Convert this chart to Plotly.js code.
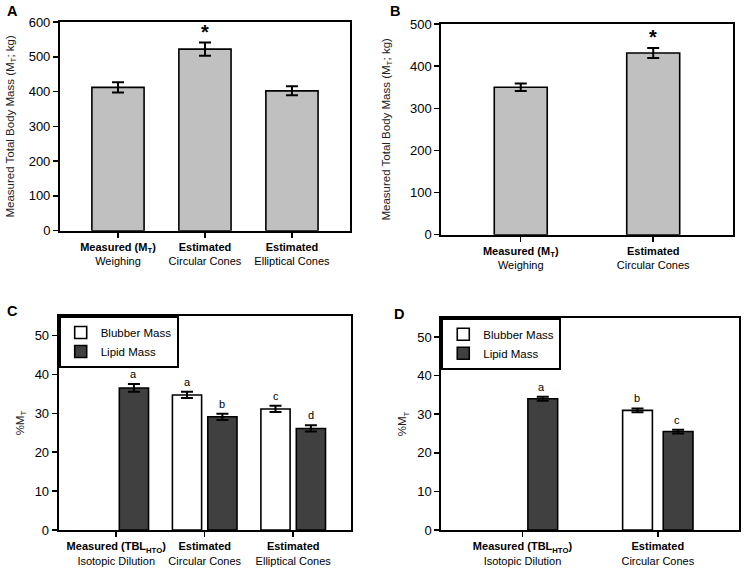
<!DOCTYPE html>
<html><head><meta charset="utf-8">
<script src="https://cdn.plot.ly/plotly-3.0.1.min.js"></script>
<style>body{margin:0;padding:0;background:#fff}#chart{width:744px;height:571px}</style>
</head><body><div id="chart"></div>
<script>
// Panel A
const catsA = ["<b>Measured (M<sub>T</sub>)</b><br>Weighing", "<b>Estimated</b><br>Circular Cones", "<b>Estimated</b><br>Elliptical Cones"];
const massA = [412, 522, 402];
const errA = [15, 19, 13];
const sigA = ["", "*", ""];
// Panel B
const catsB = ["<b>Measured (M<sub>T</sub>)</b><br>Weighing", "<b>Estimated</b><br>Circular Cones"];
const massB = [350, 431];
const errB = [9, 12];
const sigB = ["", "*"];
// Panel C
const catsC = ["<b>Measured (TBL<sub>HTO</sub>)</b><br>Isotopic Dilution", "<b>Estimated</b><br>Circular Cones", "<b>Estimated</b><br>Elliptical Cones"];
const blubberC = [null, 34.7, 31.1];
const blubberErrC = [0, 0.8, 0.8];
const blubberLetC = ["", "a", "c"];
const lipidC = [36.5, 29.1, 26.1];
const lipidErrC = [1.0, 0.8, 0.8];
const lipidLetC = ["a", "b", "d"];
// Panel D
const catsD = ["<b>Measured (TBL<sub>HTO</sub>)</b><br>Isotopic Dilution", "<b>Estimated</b><br>Circular Cones"];
const blubberD = [null, 31.0];
const blubberErrD = [0, 0.5];
const blubberLetD = ["", "b"];
const lipidD = [34.0, 25.5];
const lipidErrD = [0.5, 0.5];
const lipidLetD = ["a", "c"];

const FONT = "Arial, 'Liberation Sans', sans-serif";
const GREY = "#c0c0c0", DARK = "#404040";
const line = {color: "#000", width: 1.6};
function eb(arr){return {type:"data", array: arr, visible:true, color:"#000", thickness:2, width:6};}

const traces = [
  {type:"bar", x:catsA, y:massA, error_y:eb(errA), marker:{color:GREY, line:line}, width:0.6, xaxis:"x", yaxis:"y", showlegend:false},
  {type:"bar", x:catsB, y:massB, error_y:eb(errB), marker:{color:GREY, line:line}, width:0.4, xaxis:"x2", yaxis:"y2", showlegend:false},
  {type:"bar", x:catsC, y:blubberC, error_y:eb(blubberErrC), name:"Blubber Mass", marker:{color:"#fff", line:line}, width:0.33, offset:-0.365, xaxis:"x3", yaxis:"y3", legend:"legend"},
  {type:"bar", x:catsC, y:lipidC, error_y:eb(lipidErrC), name:"Lipid Mass", marker:{color:DARK, line:line}, width:0.33, offset:0.035, xaxis:"x3", yaxis:"y3", legend:"legend"},
  {type:"bar", x:catsD, y:blubberD, error_y:eb(blubberErrD), name:"Blubber Mass", marker:{color:"#fff", line:line}, width:0.22, offset:-0.26, xaxis:"x4", yaxis:"y4", legend:"legend2"},
  {type:"bar", x:catsD, y:lipidD, error_y:eb(lipidErrD), name:"Lipid Mass", marker:{color:DARK, line:line}, width:0.22, offset:0.04, xaxis:"x4", yaxis:"y4", legend:"legend2"}
];

function xax(dom, range){
  return {domain:dom, range:range, type:"category", showline:true, linecolor:"#000", linewidth:2, mirror:true,
    ticks:"outside", ticklen:5, tickwidth:1.5, tickcolor:"#000", showgrid:false, zeroline:false,
    tickfont:{family:FONT, size:11, color:"#000"}, fixedrange:true};
}
function yax(dom, range, dtick, title, standoff, xa){
  return {domain:dom, range:range, dtick:dtick, showline:true, linecolor:"#000", linewidth:2, mirror:true,
    ticks:"outside", ticklen:5, tickwidth:1.5, tickcolor:"#000", showgrid:false, zeroline:false,
    tickfont:{family:FONT, size:13, color:"#000"},
    title:{text:title, font:{family:FONT, size:11.5, color:"#222"}, standoff:standoff}, anchor:xa};
}

const annotations = [];
function addMarks(cats, vals, errs, labels, xr, yr, off, size, bold, yshift){
  cats.forEach((c,i)=>{
    if(!labels[i]) return;
    annotations.push({xref:xr, yref:yr, x:c, y:vals[i]+errs[i], xshift:off, yshift:yshift, text: bold?"<b>"+labels[i]+"</b>":labels[i],
      showarrow:false, yanchor:"bottom", font:{family:FONT, size:size, color:"#000"}});
  });
}
addMarks(catsA, massA, errA, sigA, "x", "y", 0, 20, true, -2);
addMarks(catsB, massB, errB, sigB, "x2", "y2", 0, 20, true, -2);
addMarks(catsC, blubberC, blubberErrC, blubberLetC, "x3", "y3", -17.5, 11, false, 2);
addMarks(catsC, lipidC, lipidErrC, lipidLetC, "x3", "y3", 17.5, 11, false, 2);
addMarks(catsD, blubberD, blubberErrD, blubberLetD, "x4", "y4", -21, 11, false, 2);
addMarks(catsD, lipidD, lipidErrD, lipidLetD, "x4", "y4", 19.5, 11, false, 2);

const panelLetters = [["A",0.007,0.998],["B",0.522,0.998],["C",0.007,0.473],["D",0.527,0.467]];
panelLetters.forEach(p=>annotations.push({xref:"paper", yref:"paper", x:p[1], y:p[2], text:"<b>"+p[0]+"</b>", showarrow:false,
  xanchor:"left", yanchor:"top", font:{family:FONT, size:14.5, color:"#000"}}));

const legStyle = {bgcolor:"#fff", bordercolor:"#000", borderwidth:2, font:{family:FONT, size:11.5, color:"#000"},
  xanchor:"left", yanchor:"top", traceorder:"normal", itemwidth:30, tracegroupgap:0};

const layout = {
  width:744, height:571, margin:{l:0,r:0,t:0,b:0}, paper_bgcolor:"#fff", plot_bgcolor:"#fff",
  barmode:"group",
  xaxis: xax([0.0806,0.4704],[-0.667,2.667]),
  yaxis: yax([0.596,0.9615],[0,600],100,"Measured Total Body Mass (M<sub>T</sub>; kg)",12,"x"),
  xaxis2: xax([0.5931,0.9848],[-0.6,1.6]),
  yaxis2: yax([0.589,0.958],[0,500],100,"Measured Total Body Mass (M<sub>T</sub>; kg)",17,"x2"),
  xaxis3: xax([0.0789,0.4714],[-0.65,2.65]),
  yaxis3: yax([0.0718,0.4466],[0,55],10,"%M<sub>T</sub>",8,"x3"),
  xaxis4: xax([0.5931,0.9933],[-0.6,1.6]),
  yaxis4: yax([0.0718,0.4436],[0,55],10,"%M<sub>T</sub>",8,"x4"),
  legend: Object.assign({x:0.0789, y:0.4466}, legStyle),
  legend2: Object.assign({x:0.5931, y:0.4436}, legStyle),
  annotations: annotations,
  font:{family:FONT}
};
layout.xaxis.anchor="y"; layout.xaxis2.anchor="y2"; layout.xaxis3.anchor="y3"; layout.xaxis4.anchor="y4";

Plotly.newPlot("chart", traces, layout, {staticPlot:true, displayModeBar:false});
</script></body></html>
